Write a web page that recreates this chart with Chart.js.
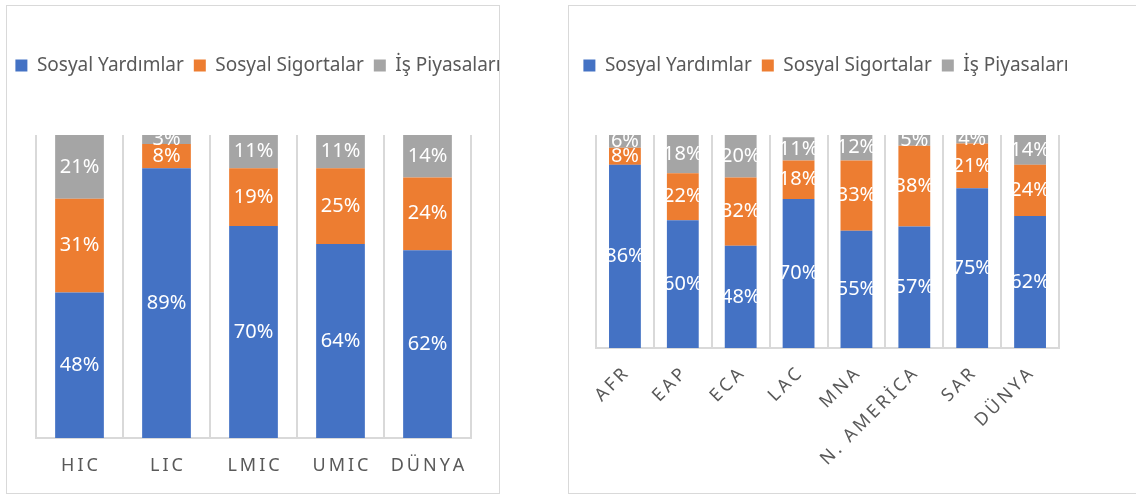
<!DOCTYPE html>
<html>
<head>
<meta charset="utf-8">
<script src="https://cdn.jsdelivr.net/npm/chart.js@4"></script>
<style>
  html, body { margin: 0; padding: 0; background: #fff; overflow: hidden; }
  body { width: 1136px; height: 495px; position: relative; }
  .panel { position: absolute; top: 5px; height: 487px; border: 1.5px solid #d9d9d9; }
  #leftPanel { left: 6px; width: 492px; }
  #rightPanel { left: 568px; width: 600px; }
  canvas { position: absolute; top: 6px; }
</style>
</head>
<body>
<div class="panel" id="leftPanel"></div>
<div class="panel" id="rightPanel"></div>
<canvas id="incomeChart" width="516" height="487" style="left:0px"></canvas>
<canvas id="regionChart" width="520" height="487" style="left:566px"></canvas>
<script>
const seriesNames = ['Sosyal Yardımlar', 'Sosyal Sigortalar', 'İş Piyasaları'];
const seriesColors = ['#4472C4', '#ED7D31', '#A5A5A5'];

const incomeGroups = ['HIC', 'LIC', 'LMIC', 'UMIC', 'DÜNYA'];
const incomeYardim = [48, 89, 70, 64, 62];
const incomeSigorta = [31, 8, 19, 25, 24];
const incomePiyasa = [21, 3, 11, 11, 14];

const regions = ['AFR', 'EAP', 'ECA', 'LAC', 'MNA', 'N. AMERİCA', 'SAR', 'DÜNYA'];
const regionYardim = [86, 60, 48, 70, 55, 57, 75, 62];
const regionSigorta = [8, 22, 32, 18, 33, 38, 21, 24];
const regionPiyasa = [6, 18, 20, 11, 12, 5, 4, 14];

const FONT = 'Noto Sans';
const spaced = s => s.split('').join('\u2009');

// white % labels in the middle of each segment
const segmentLabels = {
  id: 'segmentLabels',
  afterDatasetsDraw(chart) {
    const ctx = chart.ctx;
    ctx.save();
    ctx.fillStyle = '#ffffff';
    ctx.font = '20px "' + FONT + '"';
    ctx.textAlign = 'center';
    ctx.textBaseline = 'middle';
    chart.data.datasets.forEach((ds, i) => {
      chart.getDatasetMeta(i).data.forEach((bar, j) => {
        ctx.fillText(ds.data[j] + '%', bar.x, (bar.y + bar.base) / 2);
      });
    });
    ctx.restore();
  }
};

function makeChart(id, labels, values, opts) {
  const datasets = values.map((d, i) => ({
    label: seriesNames[i],
    data: d,
    backgroundColor: seriesColors[i],
    borderWidth: 0,
    categoryPercentage: 1,
    barPercentage: opts.barPct
  }));
  return new Chart(document.getElementById(id), {
    type: 'bar',
    data: { labels, datasets },
    plugins: [segmentLabels],
    options: {
      responsive: false,
      animation: false,
      layout: { padding: { top: 40, left: 0, right: 0, bottom: 0 } },
      plugins: {
        tooltip: { enabled: false },
        legend: {
          position: 'top',
          labels: {
            boxWidth: 12, boxHeight: 12, padding: 10,
            color: '#595959',
            font: { family: FONT, size: 19 }
          }
        }
      },
      scales: {
        x: {
          stacked: true,
          grid: { color: '#d9d9d9', lineWidth: 2, drawTicks: false, offset: true },
          border: { color: '#d9d9d9', width: 2 },
          ticks: {
            color: '#595959',
            font: { family: FONT, size: 18 },
            padding: opts.tickPad,
            autoSkip: false,
            minRotation: opts.rot, maxRotation: opts.rot,
            callback: function (v) { return spaced(this.getLabelForValue(v)); }
          },
          afterFit: s => { s.height = opts.xHeight; }
        },
        xTop: {
          type: 'linear', position: 'top', min: 0, max: 1,
          grid: { display: false }, border: { display: false }, ticks: { display: false },
          afterFit: s => { s.height = 50; }
        },
        y: {
          stacked: true, min: 0, max: 100,
          grid: { display: false }, border: { display: false }, ticks: { display: false },
          afterFit: s => { s.width = opts.padLeft; }
        },
        y2: {
          type: 'linear', position: 'right', min: 0, max: 1,
          grid: { display: false }, border: { display: false }, ticks: { display: false },
          afterFit: s => { s.width = opts.padRight; }
        }
      }
    }
  });
}

makeChart('incomeChart', incomeGroups, [incomeYardim, incomeSigorta, incomePiyasa],
  { barPct: 0.56, tickPad: 17, rot: 0, xHeight: 55, padLeft: 36, padRight: 45 });
makeChart('regionChart', regions, [regionYardim, regionSigorta, regionPiyasa],
  { barPct: 0.55, tickPad: 16, rot: 45, xHeight: 145, padLeft: 30, padRight: 27 });
</script>
</body>
</html>
